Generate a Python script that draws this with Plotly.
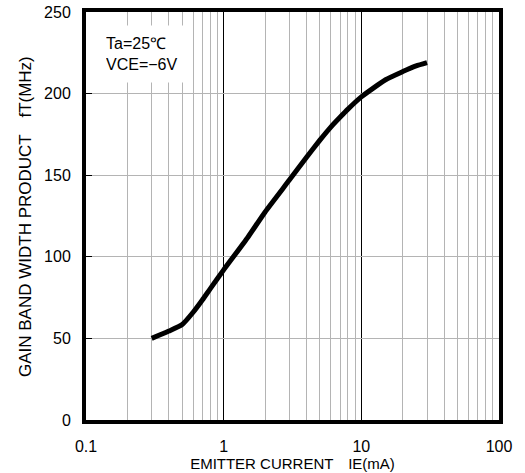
import plotly.graph_objects as go

# Data
emitter_current_mA = [0.3, 0.4, 0.5, 0.6, 0.7, 0.8, 1, 1.5, 2, 3, 4, 5, 6, 7, 8, 10, 15, 20, 25, 30]
ft_MHz = [50, 54.5, 58.5, 66, 73.5, 80.5, 92, 112, 127.5, 147, 161, 171.5, 179.5, 185.5, 190.5, 198, 208.5, 213.5, 217, 219]

x_tick_vals = [0.1, 1, 10, 100]
x_tick_text = ["0.1", "1", "10", "100"]
x_minor_vals = [m * d for d in (0.1, 1, 10) for m in range(2, 10)]
y_tick_vals = [0, 50, 100, 150, 200, 250]

FONT = "Liberation Sans, Arial, sans-serif"

fig = go.Figure()
fig.add_trace(go.Scatter(
    x=emitter_current_mA, y=ft_MHz, mode="lines",
    line=dict(color="black", width=5, shape="spline", smoothing=0.5),
    showlegend=False, hoverinfo="skip",
))

fig.update_layout(
    width=525, height=473,
    margin=dict(l=86, r=26, t=12, b=53, autoexpand=False),
    paper_bgcolor="white", plot_bgcolor="white",
    font=dict(family=FONT, color="black", size=15),
    xaxis=dict(
        type="log", range=[-1, 2], automargin=False,
        tickmode="array", tickvals=x_tick_vals, ticktext=x_tick_text,
        showgrid=True, gridcolor="black", gridwidth=1,
        minor=dict(tickmode="array", tickvals=x_minor_vals, showgrid=True,
                   gridcolor="#b4b4b4", gridwidth=1),
        showline=True, linecolor="black", linewidth=4, mirror=True,
        ticks="", ticklabelstandoff=9, zeroline=False,
        tickfont=dict(size=16),
        title=dict(text="EMITTER CURRENT　IE(mA)", font=dict(size=15), standoff=1),
    ),
    yaxis=dict(
        range=[0, 250], tickmode="array", tickvals=y_tick_vals, automargin=False,
        showgrid=True, gridcolor="#b4b4b4", gridwidth=1,
        showline=True, linecolor="black", linewidth=4, mirror=True,
        ticks="inside", ticklen=6, tickcolor="black", tickwidth=1,
        ticklabelstandoff=8, zeroline=False,
        tickfont=dict(size=16),
    ),
    annotations=[
        dict(
            xref="paper", yref="paper",
            x=(96 - 86) / 413, y=(420 - 25) / 408,
            xanchor="left", yanchor="top",
            text="Ta=25℃<br>VCE=−6V", showarrow=False, align="left",
            width=76, bgcolor="white", borderpad=9,
            font=dict(size=16, family=FONT),
        ),
        dict(
            xref="paper", yref="paper",
            x=(25 - 86) / 413, y=(420 - 217) / 408,
            xanchor="center", yanchor="middle", textangle=-90,
            text="GAIN BAND WIDTH PRODUCT　fT(MHz)", showarrow=False,
            font=dict(size=17, family=FONT),
        ),
    ],
)

fig.write_html("out.html", config={"displayModeBar": False},
               post_script="document.body.style.margin='0';")
